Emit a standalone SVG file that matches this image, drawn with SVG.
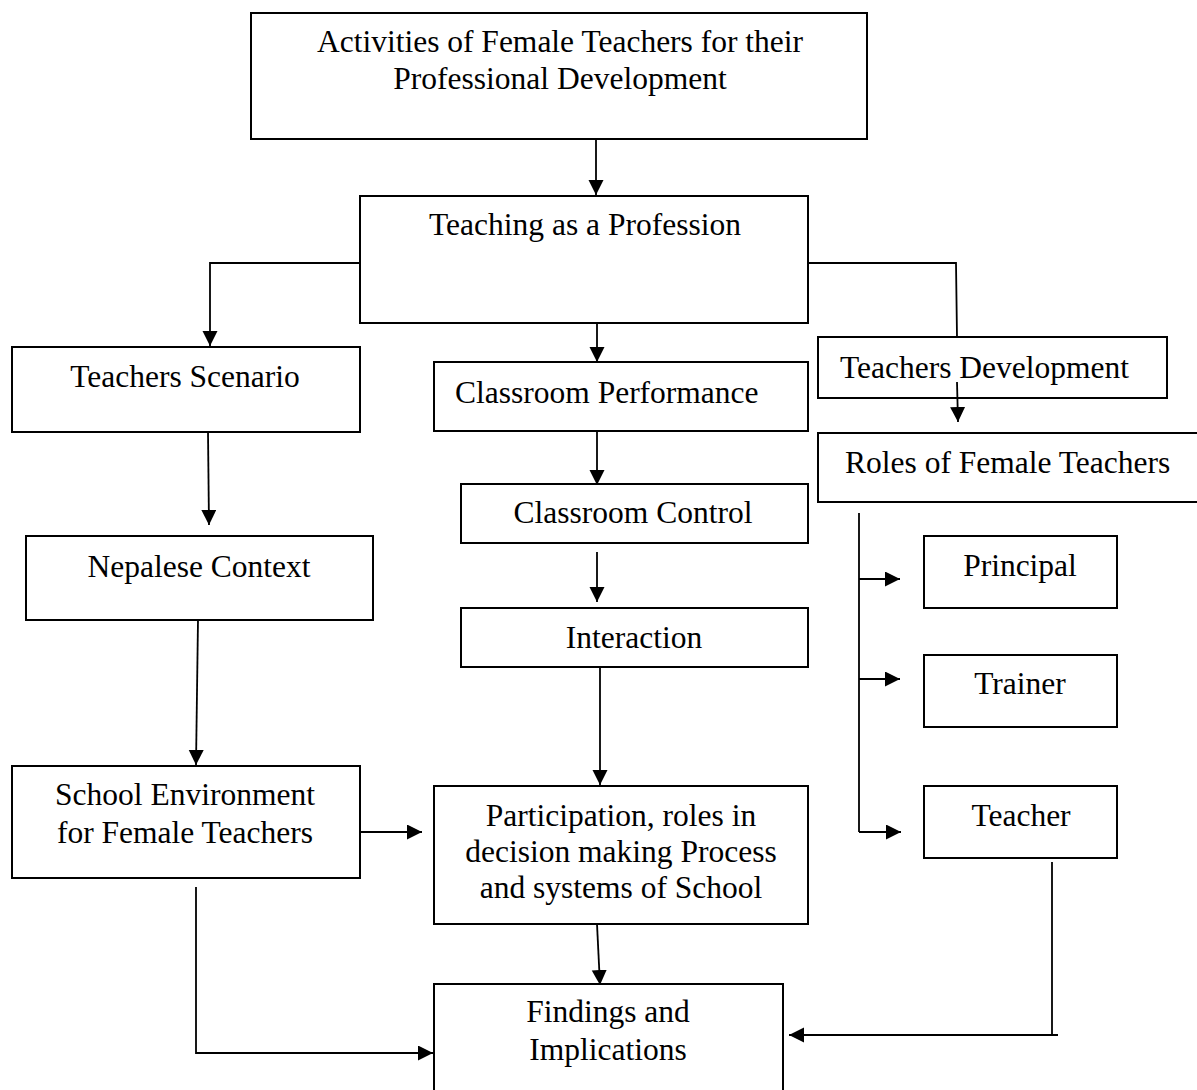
<svg xmlns="http://www.w3.org/2000/svg" width="1197" height="1090" viewBox="0 0 1197 1090">
  <style>
    .box { fill: #ffffff; stroke: #000000; stroke-width: 2; }
    .t { font-family: "Liberation Serif", "Times New Roman", serif; font-size: 31.5px; fill: #000000; }
    .c { text-anchor: middle; }
    .ln { fill: none; stroke: #000000; stroke-width: 1.8; }
  </style>
  <defs>
    <marker id="ah" markerUnits="userSpaceOnUse" markerWidth="16" markerHeight="16" refX="15" refY="7.5" orient="auto">
      <path d="M0,0 L15,7.5 L0,15 z" fill="#000000"/>
    </marker>
  </defs>
  <rect width="1197" height="1090" fill="#ffffff"/>

  <g id="connectors">
    <line class="ln" x1="596" y1="139" x2="596" y2="195" marker-end="url(#ah)"/>
    <polyline class="ln" points="360,263 210,263 210,346" marker-end="url(#ah)"/>
    <polyline class="ln" points="808,263 956,263 957,337"/>
    <line class="ln" x1="597" y1="323" x2="597" y2="362" marker-end="url(#ah)"/>
    <line class="ln" x1="208" y1="432" x2="209" y2="525" marker-end="url(#ah)"/>
    <line class="ln" x1="957" y1="382" x2="958" y2="422" marker-end="url(#ah)"/>
    <line class="ln" x1="597" y1="431" x2="597" y2="485" marker-end="url(#ah)"/>
    <line class="ln" x1="597" y1="552" x2="597" y2="602" marker-end="url(#ah)"/>
    <line class="ln" x1="198" y1="620" x2="196" y2="765" marker-end="url(#ah)"/>
    <line class="ln" x1="600" y1="667" x2="600" y2="785" marker-end="url(#ah)"/>
    <line class="ln" x1="360" y1="832" x2="422" y2="832" marker-end="url(#ah)"/>
    <polyline class="ln" points="196,887 196,1053 433,1053" marker-end="url(#ah)"/>
    <line class="ln" x1="597" y1="924" x2="600" y2="985" marker-end="url(#ah)"/>
    <line class="ln" x1="859" y1="513" x2="859" y2="832"/>
    <line class="ln" x1="859" y1="579" x2="900" y2="579" marker-end="url(#ah)"/>
    <line class="ln" x1="859" y1="679" x2="900" y2="679" marker-end="url(#ah)"/>
    <line class="ln" x1="859" y1="832" x2="901" y2="832" marker-end="url(#ah)"/>
    <line class="ln" x1="1052" y1="862" x2="1052" y2="1035"/>
    <line class="ln" x1="1058" y1="1035" x2="789" y2="1035" marker-end="url(#ah)"/>
  </g>

  <g id="activities">
    <rect class="box" x="251" y="13" width="616" height="126"/>
    <text class="t c" x="560" y="52">Activities of Female Teachers for their</text>
    <text class="t c" x="560" y="89">Professional Development</text>
  </g>
  <g id="teaching">
    <rect class="box" x="360" y="196" width="448" height="127"/>
    <text class="t c" x="585" y="235">Teaching as a Profession</text>
  </g>
  <g id="teachers-scenario">
    <rect class="box" x="12" y="347" width="348" height="85"/>
    <text class="t c" x="185" y="387">Teachers Scenario</text>
  </g>
  <g id="classroom-performance">
    <rect class="box" x="434" y="362" width="374" height="69"/>
    <text class="t" x="455" y="403">Classroom Performance</text>
  </g>
  <g id="teachers-development">
    <rect class="box" x="818" y="337" width="349" height="61" fill="none" style="fill:none"/>
    <text class="t" x="840" y="378">Teachers Development</text>
  </g>
  <g id="roles">
    <rect class="box" x="818" y="433" width="390" height="69"/>
    <text class="t" x="845" y="473">Roles of Female Teachers</text>
  </g>
  <g id="classroom-control">
    <rect class="box" x="461" y="484" width="347" height="59"/>
    <text class="t c" x="633" y="523">Classroom Control</text>
  </g>
  <g id="nepalese">
    <rect class="box" x="26" y="536" width="347" height="84"/>
    <text class="t c" x="199" y="577">Nepalese Context</text>
  </g>
  <g id="interaction">
    <rect class="box" x="461" y="608" width="347" height="59"/>
    <text class="t c" x="634" y="648">Interaction</text>
  </g>
  <g id="principal">
    <rect class="box" x="924" y="536" width="193" height="72"/>
    <text class="t c" x="1020" y="576">Principal</text>
  </g>
  <g id="trainer">
    <rect class="box" x="924" y="655" width="193" height="72"/>
    <text class="t c" x="1020" y="694">Trainer</text>
  </g>
  <g id="school-environment">
    <rect class="box" x="12" y="766" width="348" height="112"/>
    <text class="t c" x="185" y="805">School Environment</text>
    <text class="t c" x="185" y="843">for Female Teachers</text>
  </g>
  <g id="participation">
    <rect class="box" x="434" y="786" width="374" height="138"/>
    <text class="t c" x="621" y="826">Participation, roles in</text>
    <text class="t c" x="621" y="862">decision making Process</text>
    <text class="t c" x="621" y="898">and systems of School</text>
  </g>
  <g id="teacher">
    <rect class="box" x="924" y="786" width="193" height="72"/>
    <text class="t c" x="1021" y="826">Teacher</text>
  </g>
  <g id="findings">
    <rect class="box" x="434" y="984" width="349" height="130"/>
    <text class="t c" x="608" y="1022">Findings and</text>
    <text class="t c" x="608" y="1060">Implications</text>
  </g>
</svg>
